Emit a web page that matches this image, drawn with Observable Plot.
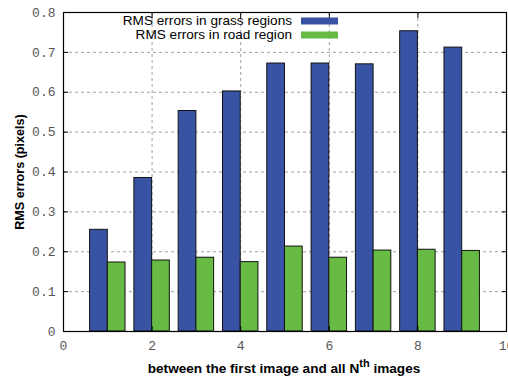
<!DOCTYPE html>
<html>
<head>
<meta charset="utf-8">
<script src="https://cdn.jsdelivr.net/npm/d3@7"></script>
<script src="https://cdn.jsdelivr.net/npm/@observablehq/plot@0.6"></script>
<style>
  html, body { margin: 0; padding: 0; background: #fff; }
  svg { overflow: visible; }
</style>
</head>
<body>
<div id="chart"></div>
<script>
const frames = [1, 2, 3, 4, 5, 6, 7, 8, 9];
const grassErrors = [0.255, 0.385, 0.553, 0.602, 0.672, 0.672, 0.670, 0.753, 0.712];
const roadErrors = [0.173, 0.178, 0.185, 0.174, 0.213, 0.185, 0.203, 0.205, 0.202];
const seriesNames = ["RMS errors in grass regions", "RMS errors in road region"];
const seriesColors = ["#3853a4", "#67bb45"];
const xTicks = [0, 2, 4, 6, 8, 10];
const yTicks = [0, 0.1, 0.2, 0.3, 0.4, 0.5, 0.6, 0.7, 0.8];

const barWidth = 0.4;
const rows = [];
frames.forEach((n, i) => {
  rows.push({n, series: seriesNames[0], value: grassErrors[i], x1: n - barWidth, x2: n});
  rows.push({n, series: seriesNames[1], value: roadErrors[i], x1: n, x2: n + barWidth});
});

const mono = "'Liberation Mono', 'DejaVu Sans Mono', monospace";
const sans = "'Liberation Sans', Arial, sans-serif";

const chart = Plot.plot({
  width: 508,
  height: 378,
  marginLeft: 63,
  marginRight: 2,
  marginTop: 12,
  marginBottom: 47,
  style: {fontFamily: sans, fontSize: "12px", background: "#fff"},
  x: {domain: [0, 10]},
  y: {domain: [0, 0.8]},
  color: {domain: seriesNames, range: seriesColors},
  marks: [
    Plot.gridX(xTicks.slice(1, -1), {stroke: "#888", strokeOpacity: 1, strokeDasharray: "3,3", strokeWidth: 0.8}),
    Plot.gridY(yTicks.slice(1, -1), {stroke: "#888", strokeOpacity: 1, strokeDasharray: "3,3", strokeWidth: 0.8}),
    Plot.rect(rows, {x1: "x1", x2: "x2", y1: 0, y2: "value", fill: "series", stroke: "#111", strokeWidth: 1}),
    Plot.frame({stroke: "#000", strokeWidth: 1.2}),
    Plot.axisX(xTicks, {anchor: "bottom", tickSize: -5, tickPadding: 14, label: null,
      fontFamily: mono, fontSize: 13, fill: "#555", stroke: "#000", tickFormat: d => String(d)}),
    Plot.axisX(xTicks, {anchor: "top", tickSize: -5, label: null, text: null, stroke: "#000"}),
    Plot.axisY(yTicks, {anchor: "left", tickSize: -5, tickPadding: 13, label: null,
      fontFamily: mono, fontSize: 13, fill: "#555", stroke: "#000",
      tickFormat: d => (d === 0 ? "0" : d3.format(".1f")(d))}),
    Plot.axisY(yTicks, {anchor: "right", tickSize: -5, label: null, text: null, stroke: "#000"})
  ]
});

const svg = d3.select(chart);
// legend
const legend = [{y: 25, name: seriesNames[0], c: seriesColors[0]}, {y: 39, name: seriesNames[1], c: seriesColors[1]}];
legend.forEach(s => {
  svg.append("text").attr("x", 292).attr("y", s.y).attr("text-anchor", "end")
    .attr("font-size", 13.6).attr("font-family", sans).attr("fill", "#000").text(s.name);
  svg.append("rect").attr("x", 301).attr("y", s.y - 7.5).attr("width", 37).attr("height", 7).attr("fill", s.c);
});
// axis titles
svg.append("text")
  .attr("transform", "translate(24,172) rotate(-90)")
  .attr("text-anchor", "middle")
  .attr("font-weight", "bold")
  .attr("font-size", 12.6)
  .attr("font-family", sans)
  .text("RMS errors (pixels)");
const xl = svg.append("text")
  .attr("x", 284).attr("y", 373)
  .attr("text-anchor", "middle")
  .attr("font-weight", "bold")
  .attr("font-size", 13.6)
  .attr("font-family", sans);
xl.append("tspan").text("between the first image and all N");
xl.append("tspan").attr("dy", -6).attr("font-size", 11).text("th");
xl.append("tspan").attr("dy", 6).text(" images");

document.getElementById("chart").appendChild(chart);
</script>
</body>
</html>
